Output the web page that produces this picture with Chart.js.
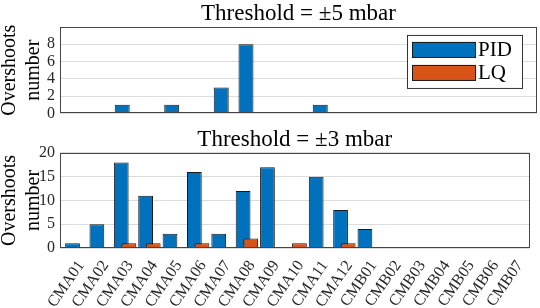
<!DOCTYPE html>
<html>
<head>
<meta charset="utf-8">
<script src="https://cdn.jsdelivr.net/npm/chart.js@4/dist/chart.umd.min.js"></script>
<style>
  html, body { margin: 0; padding: 0; background: #fff; }
  #wrap { position: relative; width: 540px; height: 308px; overflow: hidden; }
  canvas { position: absolute; left: 0; }
</style>
</head>
<body>
<div id="wrap">
  <canvas id="chart5" width="540" height="128" style="top:0px"></canvas>
  <canvas id="chart3" width="540" height="180" style="top:128px"></canvas>
</div>
<script>
const categories = ['CMA01', 'CMA02', 'CMA03', 'CMA04', 'CMA05', 'CMA06', 'CMA07', 'CMA08', 'CMA09', 'CMA10',
  'CMA11', 'CMA12', 'CMB01', 'CMB02', 'CMB03', 'CMB04', 'CMB05', 'CMB06', 'CMB07'];
const seriesNames = ['PID', 'LQ'];
const pid5 = [0, 0, 1, 0, 1, 0, 3, 8, 0, 0, 1, 0, 0, 0, 0, 0, 0, 0, 0];
const lq5  = [0, 0, 0, 0, 0, 0, 0, 0, 0, 0, 0, 0, 0, 0, 0, 0, 0, 0, 0];
const pid3 = [1, 5, 18, 11, 3, 16, 3, 12, 17, 0, 15, 8, 4, 0, 0, 0, 0, 0, 0];
const lq3  = [0, 0, 1, 1, 0, 1, 0, 2, 0, 1, 0, 1, 0, 0, 0, 0, 0, 0, 0];
const yTicks5 = [0, 2, 4, 6, 8];
const yTicks3 = [0, 5, 10, 15, 20];

const FONT = 'Liberation Serif';
const BLUE = '#0072BD';
const ORANGE = '#D95319';

// LQ bars sit on top of the PID bars, so draw dataset 1 last
const lqOnTop = {
  id: 'lqOnTop',
  beforeDatasetDraw(chart, args) {
    if (args.index === 1) return false;
  },
  afterDatasetsDraw(chart) {
    chart.getDatasetMeta(1).controller.draw();
  }
};

// box round the axes
const frame = {
  id: 'frame',
  afterDraw(chart) {
    const a = chart.chartArea, ctx = chart.ctx;
    ctx.save();
    ctx.strokeStyle = '#444';
    ctx.lineWidth = 1;
    ctx.strokeRect(Math.round(a.left) + 0.5, Math.round(a.top) + 0.5,
      Math.round(a.right - a.left) - 1, Math.round(a.bottom - a.top) - 1);
    ctx.restore();
  }
};

// legend box inside the top right corner
const boxLegend = {
  id: 'boxLegend',
  afterDraw(chart) {
    const a = chart.chartArea, ctx = chart.ctx;
    const w = 115, h = 53;
    const x = a.right - 15 - w, y = a.top + 8;
    ctx.save();
    ctx.fillStyle = '#fff';
    ctx.fillRect(x, y, w, h);
    ctx.strokeStyle = '#333';
    ctx.lineWidth = 1;
    ctx.strokeRect(x + 0.5, y + 0.5, w, h);
    ctx.font = '21px "' + FONT + '"';
    ctx.textBaseline = 'middle';
    chart.data.datasets.forEach((ds, i) => {
      const py = y + 7 + i * 23;
      ctx.fillStyle = ds.backgroundColor;
      ctx.fillRect(x + 5, py, 64, 16);
      ctx.strokeStyle = '#1a1a1a';
      ctx.strokeRect(x + 5.5, py + 0.5, 63, 15);
      ctx.fillStyle = '#000';
      ctx.fillText(ds.label, x + 71, py + 9);
    });
    ctx.restore();
  }
};

// a count of zero leaves no bar
const bars = arr => arr.map(v => (v === 0 ? null : v));

function makeChart(id, title, pid, lq, yTicks, yMax, showX, withLegend, titleTop) {
  const plugins = [lqOnTop, frame];
  if (withLegend) plugins.push(boxLegend);
  return new Chart(document.getElementById(id), {
    type: 'bar',
    data: {
      labels: categories.map((c, i) => i),
      datasets: [
        { label: seriesNames[0], data: bars(pid), backgroundColor: BLUE },
        { label: seriesNames[1], data: bars(lq), backgroundColor: ORANGE }
      ]
    },
    options: {
      responsive: false,
      animation: false,
      devicePixelRatio: 1,
      layout: { padding: { left: 0, right: 3, top: 0, bottom: showX ? 0 : 5 } },
      datasets: {
        bar: {
          categoryPercentage: 0.626,
          barPercentage: 1.935,
          borderColor: '#1a1a1a',
          borderWidth: 1,
          borderSkipped: 'start',
          inflateAmount: 0
        }
      },
      plugins: {
        legend: { display: false },
        tooltip: { enabled: false },
        title: {
          display: true,
          text: title,
          fullSize: false,
          color: '#000',
          font: { family: FONT, size: 23, weight: 'normal', lineHeight: 1.05 },
          padding: { top: titleTop, bottom: 0.8 }
        }
      },
      scales: {
        x: {
          type: 'linear',
          display: showX,
          offset: false,
          min: -0.67,
          max: 18.6,
          grid: { display: false, drawTicks: false },
          border: { display: false },
          afterFit: s => { if (showX) s.height = 60; },
          ticks: {
            stepSize: 1,
            includeBounds: false,
            autoSkip: false,
            maxRotation: 55,
            minRotation: 55,
            padding: 9,
            labelOffset: 5,
            color: '#262626',
            font: { family: FONT, size: 16 },
            callback: v => categories[v] ?? ''
          }
        },
        y: {
          min: 0,
          max: yMax,
          afterFit: s => { s.width = 60; },
          afterBuildTicks: s => { s.ticks = yTicks.map(v => ({ value: v })); },
          grid: { color: '#dcdcdc', drawTicks: false },
          border: { display: false },
          ticks: {
            autoSkip: false,
            padding: 5,
            color: '#262626',
            font: { family: FONT, size: 16 }
          },
          title: {
            display: true,
            text: ['Overshoots', 'number'],
            color: '#000',
            font: { family: FONT, size: 20, lineHeight: 1.2 },
            padding: { top: -2, bottom: 0 }
          }
        }
      }
    },
    plugins: plugins
  });
}

makeChart('chart5', 'Threshold = \u00b15 mbar', pid5, lq5, yTicks5, 10, false, true, 2);
makeChart('chart3', 'Threshold = \u00b13 mbar', pid3, lq3, yTicks3, 20, true, false, 0);
</script>
</body>
</html>
